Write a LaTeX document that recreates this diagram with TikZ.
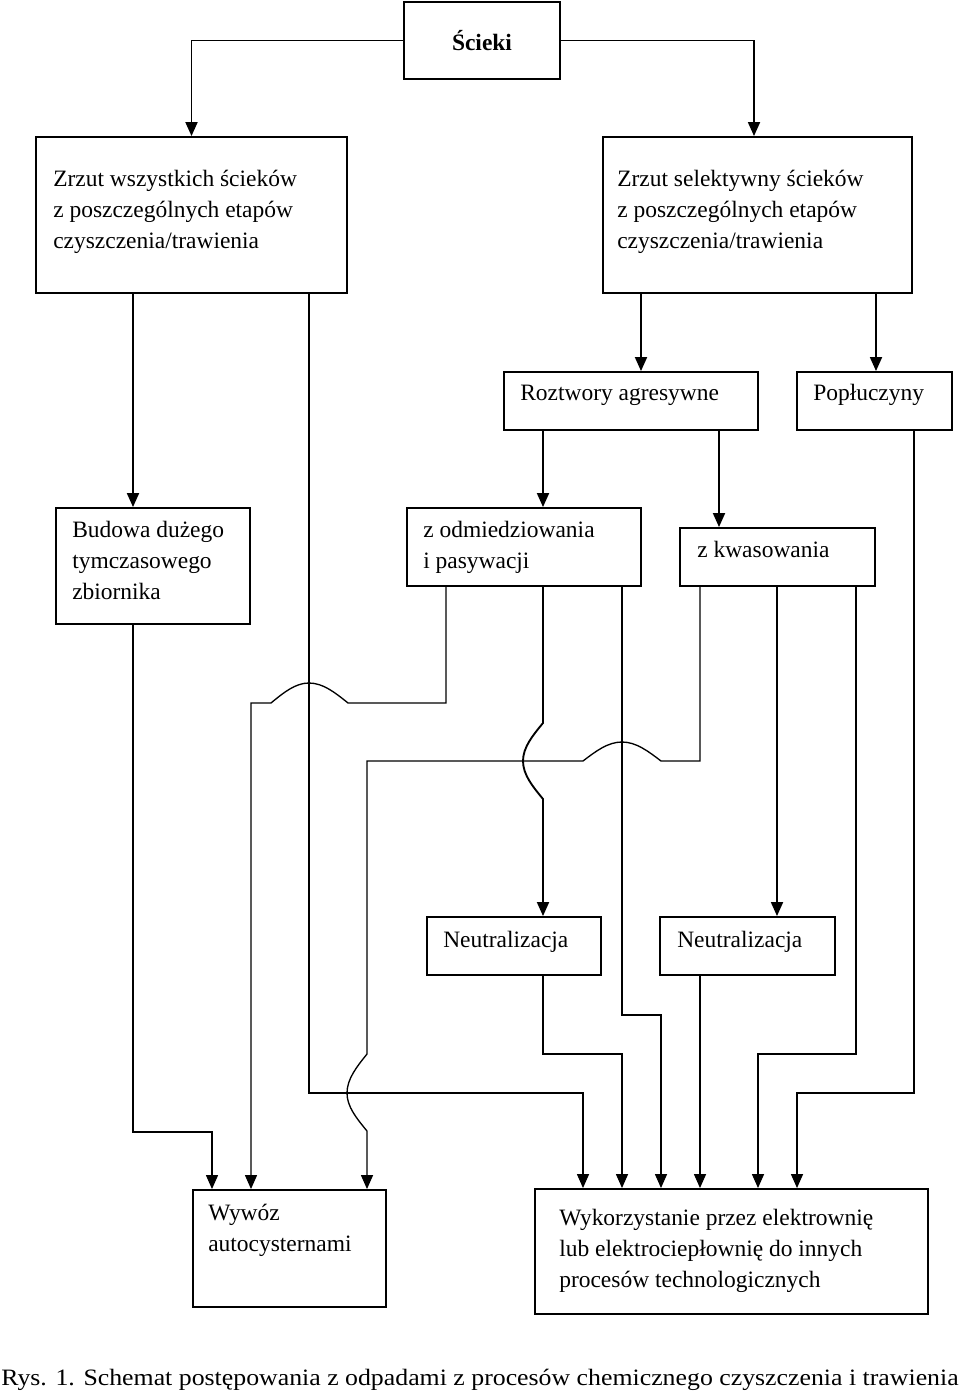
\documentclass[tikz,border=0pt]{standalone}
\usepackage{fontspec}
\setmainfont{Liberation Serif}
\newfontfamily\capfont[FakeStretch=1.1]{Liberation Serif}
\usetikzlibrary{arrows.meta}
\begin{document}
\begin{tikzpicture}[x=0.75pt,y=-0.75pt,
  box/.style={draw, line width=1.4pt, rectangle, inner sep=0pt},
  txt/.style={inner sep=0pt, align=left, font=\fontsize{17.6pt}{23.25pt}\selectfont},
  arr/.style={line width=1.4pt, -{Triangle[length=10.5pt,width=9pt]}},
  arrn/.style={line width=1pt, -{Triangle[length=10.5pt,width=9pt]}}]
\useasboundingbox (0,0) rectangle (960,1394);
% boxes
\node[box, minimum width=117pt, minimum height=57.75pt] (sc) at (482,40.5) {};
\node[box, minimum width=233.25pt, minimum height=117pt] (A) at (191.5,215) {};
\node[box, minimum width=231.75pt, minimum height=117pt] (B) at (757.5,215) {};
\node[box, minimum width=190.5pt, minimum height=43.5pt] (rozt) at (631,401) {};
\node[box, minimum width=116.25pt, minimum height=43.5pt] (popl) at (874.5,401) {};
\node[box, minimum width=145.5pt, minimum height=87pt] (bud) at (153,566) {};
\node[box, minimum width=175.5pt, minimum height=58.5pt] (odm) at (524,547) {};
\node[box, minimum width=146.25pt, minimum height=43.5pt] (kwas) at (777.5,557) {};
\node[box, minimum width=130.5pt, minimum height=43.5pt] (neu1) at (514,946) {};
\node[box, minimum width=131.25pt, minimum height=43.5pt] (neu2) at (747.5,946) {};
\node[box, minimum width=144.75pt, minimum height=87.75pt] (wyw) at (289.5,1248.5) {};
\node[box, minimum width=294.75pt, minimum height=93.75pt] (wyk) at (731.5,1251.5) {};
% texts (base anchor = baseline of last line)
\node[txt, anchor=base] (tsc) at (482,51) {\bfseries Ścieki};
\node[txt, anchor=base west] (tA) at (53,249) {Zrzut wszystkich ścieków\\z poszczególnych etapów\\czyszczenia/trawienia};
\node[txt, anchor=base west] (tB) at (617,249) {Zrzut selektywny ścieków\\z poszczególnych etapów\\czyszczenia/trawienia};
\node[txt, anchor=base west] (trozt) at (520,400) {Roztwory agresywne};
\node[txt, anchor=base west] (tpopl) at (813,400) {Popłuczyny};
\node[txt, anchor=base west] (tbud) at (72,599) {Budowa dużego\\tymczasowego\\zbiornika};
\node[txt, anchor=base west] (todm) at (423,568) {z odmiedziowania\\i pasywacji};
\node[txt, anchor=base west] (tkwas) at (697,557) {z kwasowania};
\node[txt, anchor=base west] (tneu1) at (443,947) {Neutralizacja};
\node[txt, anchor=base west] (tneu2) at (677,947) {Neutralizacja};
\node[txt, anchor=base west] (twyw) at (208,1251) {Wywóz\\autocysternami};
\node[txt, anchor=base west] (twyk) at (559,1287) {Wykorzystanie przez elektrownię\\lub elektrociepłownię do innych\\procesów technologicznych};
\node[txt, anchor=base, font=\capfont\fontsize{17.6pt}{23.25pt}\selectfont] (cap) at (480,1385) {Rys. 1. Schemat postępowania z odpadami z procesów chemicznego czyszczenia i trawienia};
% columns
\foreach \c in {133,212,251,309,367,446,543,583,622,641,661,700,719,754,758,777,797,856,876,914}
  \coordinate (c\c) at (\c,0);
% connectors
\draw[arr] (sc.west) -| (A.north);
\draw[arr] (sc.east) -| (c754 |- B.north);
\draw[arr] (A.south -| c133) -- (bud.north -| c133);
\draw[arrn] (A.south -| c309) -- (309,1093) -| (wyk.north -| c583);
\draw[arr] (B.south -| c641) -- (rozt.north -| c641);
\draw[arr] (B.south -| c876) -- (popl.north -| c876);
\draw[arr] (rozt.south -| c543) -- (odm.north -| c543);
\draw[arr] (rozt.south -| c719) -- (kwas.north -| c719);
\draw[arrn] (popl.south -| c914) -- (914,1093) -| (wyk.north -| c797);
\draw[arrn] (bud.south -| c133) -- (133,1132) -| (wyw.north -| c212);
\draw[arrn] (odm.south -| c446) -- (446,703) -- (348,703) sin (309,683) cos (271,703) -- (251,703) -- (wyw.north -| c251);
\draw[arr] (odm.south -| c543) -- (543,723) .. controls (532.8,735.4) and (523,747.2) .. (523,761)
  .. controls (523,774.8) and (532.8,786.6) .. (543,799) -- (neu1.north -| c543);
\draw[arrn] (odm.south -| c622) -- (622,1015) -| (wyk.north -| c661);
\draw[arrn] (kwas.south -| c700) -- (700,761) -- (661,761) sin (622,742) cos (583,761) -- (367,761) -- (367,1054)
  .. controls (356.8,1066.7) and (347,1078.9) .. (347,1093)
  .. controls (347,1106.8) and (356.8,1118.6) .. (367,1131) -- (wyw.north -| c367);
\draw[arr] (kwas.south -| c777) -- (neu2.north -| c777);
\draw[arrn] (kwas.south -| c856) -- (856,1054) -| (wyk.north -| c758);
\draw[arrn] (neu1.south -| c543) -- (543,1054) -| (wyk.north -| c622);
\draw[arrn] (neu2.south -| c700) -- (wyk.north -| c700);
\end{tikzpicture}
\end{document}
